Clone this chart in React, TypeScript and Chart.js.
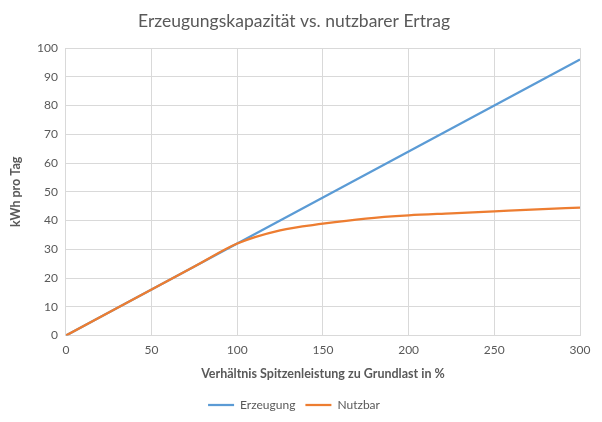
import React, { useEffect, useRef } from "react";
import { Chart, registerables } from "chart.js";

Chart.register(...registerables);

const xValues = [0, 25, 50, 75, 100, 125, 150, 175, 200, 225, 250, 275, 300];
const erzeugung = [0, 8, 16, 24, 32, 40, 48, 56, 64, 72, 80, 88, 96];
const nutzbar = [0, 8, 16, 24, 32, 36.6, 38.9, 40.7, 41.8, 42.5, 43.2, 43.9, 44.5];
const xTicks = [0, 50, 100, 150, 200, 250, 300];

const FONT = "Lato, 'Open Sans', sans-serif";
const GRAY = "#595959";

export default function App() {
  const ref = useRef<HTMLCanvasElement | null>(null);
  useEffect(() => {
    if (!ref.current) return;
    const chart = new Chart(ref.current, {
      type: "line",
      data: {
        datasets: [
          {
            label: "Erzeugung",
            data: xValues.map((x, i) => ({ x, y: erzeugung[i] })),
            borderColor: "#5b9bd5",
            backgroundColor: "#5b9bd5",
            borderWidth: 2.25,
            pointRadius: 0,
            tension: 0,
            order: 2,
          },
          {
            label: "Nutzbar",
            data: xValues.map((x, i) => ({ x, y: nutzbar[i] })),
            borderColor: "#ed7d31",
            backgroundColor: "#ed7d31",
            borderWidth: 2.25,
            pointRadius: 0,
            cubicInterpolationMode: "monotone",
            order: 1,
          },
        ],
      },
      options: {
        animation: false,
        responsive: false,
        layout: { padding: { left: 8, right: 22, top: 9, bottom: 1 } },
        plugins: {
          title: {
            display: true,
            text: "Erzeugungskapazität vs. nutzbarer Ertrag",
            color: GRAY,
            font: { family: FONT, size: 17.5, weight: "normal" },
            padding: { top: 2, bottom: 16 },
          },
          legend: {
            position: "bottom",
            labels: {
              color: GRAY,
              font: { family: FONT, size: 12 },
              usePointStyle: true,
              pointStyle: "line",
              pointStyleWidth: 26,
              padding: 10,
              sort: (a: any, b: any) => a.datasetIndex - b.datasetIndex,
            },
          },
          tooltip: { enabled: false },
        },
        scales: {
          x: {
            type: "linear",
            min: 0,
            max: 300,
            afterBuildTicks: (s: any) => {
              s.ticks = xTicks.map((v) => ({ value: v }));
            },
            grid: { color: "#d9d9d9", drawTicks: false },
            border: { color: "#d9d9d9" },
            ticks: { color: GRAY, font: { family: FONT, size: 12 }, padding: 7 },
            title: {
              display: true,
              text: "Verhältnis Spitzenleistung zu Grundlast in %",
              color: GRAY,
              font: { family: FONT, size: 12.5, weight: "bold" },
              padding: { top: 2, bottom: 8 },
            },
          },
          y: {
            min: 0,
            max: 100,
            ticks: { stepSize: 10, color: GRAY, font: { family: FONT, size: 12 }, padding: 8 },
            grid: { color: "#d9d9d9", drawTicks: false },
            border: { color: "#d9d9d9" },
            title: {
              display: true,
              text: "kWh pro Tag",
              color: GRAY,
              font: { family: FONT, size: 12.5, weight: "bold" },
              padding: { top: 0, bottom: 6 },
            },
          },
        },
      },
    });
    return () => chart.destroy();
  }, []);
  return (
    <div style={{ position: "absolute", left: 0, top: 0, width: 602, height: 422, background: "#fff" }}>
      <canvas ref={ref} width={602} height={422} />
    </div>
  );
}
